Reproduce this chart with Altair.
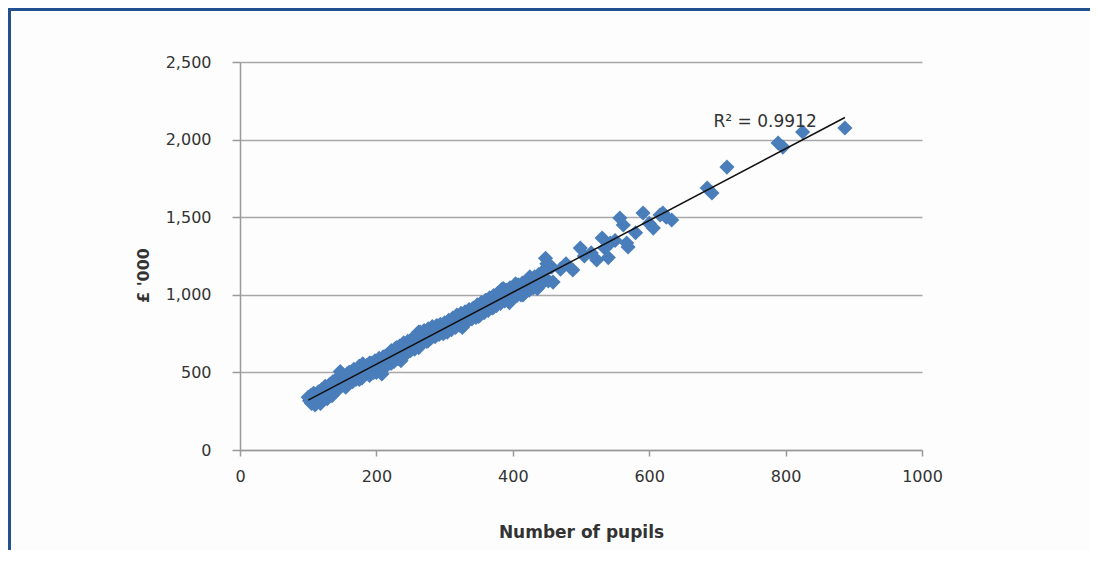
import altair as alt
import pandas as pd

# Number of pupils (x) and cost in £'000 (y)
pupils = [
    100, 102, 104, 105, 107, 108, 110, 111, 113, 115, 116, 118, 120, 121, 123, 125, 126, 128,
    130, 131, 133, 135, 136, 138, 140, 141, 143, 145, 147, 148, 150, 152, 153, 155, 157, 158,
    160, 162, 163, 165, 167, 168, 170, 172, 174, 175, 177, 179, 180, 182, 184, 186, 188, 190,
    192, 194, 196, 198, 200, 202, 204, 206, 208, 210, 212, 214, 216, 218, 220, 222, 224, 226,
    228, 230, 232, 234, 236, 238, 240, 242, 244, 246, 248, 250, 252, 254, 256, 258, 260, 262,
    264, 266, 268, 270, 272, 274, 276, 278, 280, 282, 284, 286, 288, 290, 292, 294, 296, 298,
    300, 302, 304, 306, 308, 310, 312, 314, 316, 318, 320, 322, 324, 326, 328, 330, 332, 334,
    336, 338, 340, 342, 344, 346, 348, 350, 352, 354, 356, 358, 360, 362, 364, 366, 368, 370,
    372, 374, 376, 378, 380, 382, 384, 386, 388, 390, 392, 394, 396, 398, 400, 402, 404, 406,
    408, 410, 412, 414, 416, 418, 420, 421, 422, 424, 426, 428, 430, 432, 434, 436, 438, 440,
    442, 444, 446, 448, 450, 452, 455, 457, 459, 470, 478, 488, 499, 505, 515, 523, 531, 535,
    540, 543, 550, 557, 562, 567, 569, 580, 591, 600, 606, 616, 620, 625, 633, 685, 692, 714,
    789, 796, 825, 887,
    150, 160, 175, 190, 200, 212, 222, 230, 236, 240, 250, 255, 262, 268, 276, 290, 300, 316,
    326, 340, 350, 362, 372, 386, 395, 404, 415, 425, 436, 444,
]
cost = [
    340, 318, 352, 300, 330, 365, 290, 345, 320, 375, 335, 300, 390, 355, 340, 410, 365, 330,
    385, 420, 370, 350, 440, 400, 380, 455, 425, 395, 505, 450, 420, 470, 440, 405, 490, 455,
    430, 500, 475, 440, 520, 480, 455, 510, 470, 540, 495, 465, 555, 520, 490, 545, 505, 480,
    560, 525, 500, 575, 540, 510, 590, 555, 490, 600, 570, 540, 615, 585, 560, 640, 600, 570,
    655, 620, 590, 670, 635, 605, 690, 650, 620, 700, 665, 640, 715, 680, 650, 735, 700, 660,
    760, 720, 690, 770, 735, 700, 780, 745, 720, 795, 760, 730, 800, 770, 745, 810, 780, 750,
    820, 790, 760, 835, 800, 775, 850, 815, 790, 870, 830, 805, 880, 850, 815, 890, 860, 830,
    905, 870, 845, 915, 885, 855, 935, 900, 870, 950, 915, 885, 965, 930, 900, 980, 945, 915,
    995, 960, 930, 1010, 975, 945, 1035, 990, 960, 1030, 1000, 970, 1045, 1010, 985, 1050, 1020, 995,
    1065, 1030, 1000, 1075, 1045, 1015, 1090, 1095, 1060, 1030, 1100, 1070, 1045, 1115, 1085, 1055, 1130, 1100,
    1070, 1145, 1110, 1235, 1200, 1090, 1180, 1179, 1082, 1165, 1200, 1160, 1301, 1250, 1270, 1224, 1366, 1300,
    1240, 1334, 1350, 1495, 1450, 1334, 1308, 1400, 1527, 1460, 1430, 1514, 1527, 1500, 1482, 1688, 1656, 1823,
    1978, 1952, 2049, 2075,
    480, 500, 455, 560, 500, 600, 560, 660, 575, 620, 700, 720, 760, 735, 705, 800, 760, 850,
    790, 900, 860, 965, 920, 1040, 950, 1070, 1000, 1115, 1040, 1150,
]

y_ticks = [0, 500, 1000, 1500, 2000, 2500]
x_ticks = [0, 200, 400, 600, 800, 1000]

annot_text = ["R\u00b2 = 0.9912"]
annot_x = [770]
annot_y = [2112]

df = pd.DataFrame({"pupils": pupils, "cost": cost})
ann = pd.DataFrame({"t": annot_text, "x": annot_x, "y": annot_y})

FONT = "DejaVu Sans"
W, H = 682, 388
PAD_L, PAD_T, PAD_R, PAD_B = 232, 54, 168, 100

x_enc = alt.X(
    "pupils:Q",
    scale=alt.Scale(domain=[0, 1000], nice=False, zero=True),
    axis=alt.Axis(
        values=x_ticks, format="d", grid=False, labelFlush=False,
        domainColor="#9a9a9a", domainWidth=1.5, tickColor="#9a9a9a", tickWidth=1.5, tickSize=6,
        labelFont=FONT, labelFontSize=16, labelColor="#333333", labelPadding=12,
        title="Number of pupils", titleFont=FONT, titleFontSize=17, titleFontWeight="bold",
        titleColor="#333333", titleY=82, titleBaseline="middle",
    ),
)
y_enc = alt.Y(
    "cost:Q",
    scale=alt.Scale(domain=[0, 2500], nice=False, zero=True),
    axis=alt.Axis(
        values=y_ticks, format=",d", grid=True, gridColor="#a8a8a8", gridWidth=1.5,
        labelFlush=False,
        domainColor="#9a9a9a", domainWidth=1.5, tickColor="#9a9a9a", tickWidth=1.5, tickSize=8,
        labelFont=FONT, labelFontSize=16, labelColor="#333333", labelPadding=21,
        title="\u00a3 '000", titleFont=FONT, titleFontSize=16, titleFontWeight="bold",
        titleColor="#333333", titleX=-97, titleY=213, titleBaseline="middle", titleAngle=-90,
    ),
)

base = alt.Chart(df)

points = base.mark_point(shape="diamond", filled=True, size=230, opacity=1, color="#4a7ebb").encode(
    x=x_enc, y=y_enc
)

trend = base.transform_regression("pupils", "cost").mark_line(color="#111111", strokeWidth=1.5).encode(
    x="pupils:Q", y="cost:Q"
)

label = alt.Chart(ann).mark_text(font=FONT, fontSize=17, color="#333333", align="center", baseline="middle").encode(
    x="x:Q", y="y:Q", text="t:N"
)

border_df = pd.DataFrame({"a": [0]})
top_border = alt.Chart(border_df).mark_rule(color="#23508f", strokeWidth=3).encode(
    x=alt.value(-PAD_L), x2=alt.value(W + PAD_R), y=alt.value(-PAD_T + 1.5)
)
left_border = alt.Chart(border_df).mark_rule(color="#23508f", strokeWidth=3).encode(
    x=alt.value(-PAD_L + 1.5), y=alt.value(-PAD_T), y2=alt.value(H + PAD_B)
)

chart = alt.layer(points, trend, label, top_border, left_border).properties(
    width=W, height=H,
    autosize=alt.AutoSizeParams(type="none"),
    padding={"left": PAD_L, "top": PAD_T, "right": PAD_R, "bottom": PAD_B},
    background="#fdfdfd",
).configure_view(stroke=None)

chart.save("out.html", embed_options={"renderer": "svg", "actions": False})
